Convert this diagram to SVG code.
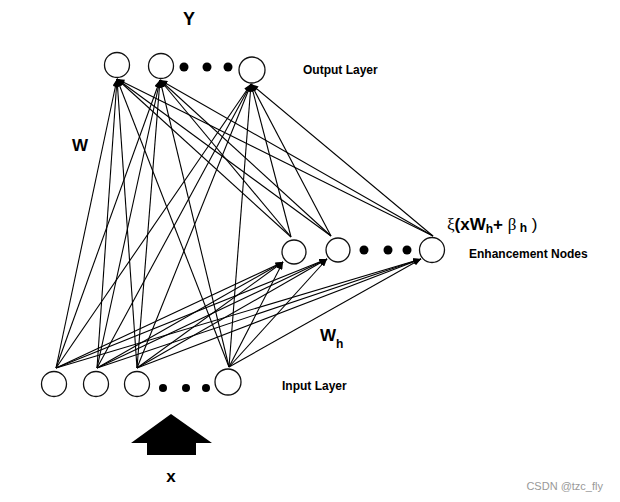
<svg xmlns="http://www.w3.org/2000/svg" width="620" height="502" viewBox="0 0 620 502">
<style>
.node{fill:#fff;stroke:#111;stroke-width:1.3}
.dot{fill:#000}
.c line{stroke:#000;stroke-width:1.1;marker-end:url(#ah)}
.lbl{font-family:"Liberation Sans",Arial,sans-serif;font-weight:bold;fill:#000}
</style>
<defs>
<marker id="ah" viewBox="0 0 10 8" refX="10" refY="4" markerWidth="8" markerHeight="6" markerUnits="userSpaceOnUse" orient="auto"><path d="M0,0 L10,4 L0,8 z" fill="#000"/></marker>
</defs>
<rect width="620" height="502" fill="#fff"/>
<g id="connectors" class="c">
<!-- input to output -->
<line x1="56" y1="368" x2="117" y2="79"/>
<line x1="56" y1="368" x2="160" y2="80"/>
<line x1="56" y1="368" x2="251" y2="84"/>
<line x1="97" y1="368" x2="117" y2="79"/>
<line x1="97" y1="368" x2="160" y2="80"/>
<line x1="97" y1="368" x2="251" y2="84"/>
<line x1="137" y1="368" x2="117" y2="79"/>
<line x1="137" y1="368" x2="160" y2="80"/>
<line x1="137" y1="368" x2="251" y2="84"/>
<line x1="229" y1="367" x2="117" y2="79"/>
<line x1="229" y1="367" x2="160" y2="80"/>
<line x1="229" y1="367" x2="251" y2="84"/>
<!-- input to enhancement -->
<line x1="56" y1="368" x2="283" y2="262"/>
<line x1="56" y1="368" x2="327" y2="259"/>
<line x1="56" y1="368" x2="421" y2="259"/>
<line x1="97" y1="368" x2="283" y2="262"/>
<line x1="97" y1="368" x2="327" y2="259"/>
<line x1="97" y1="368" x2="421" y2="259"/>
<line x1="137" y1="368" x2="283" y2="262"/>
<line x1="137" y1="368" x2="327" y2="259"/>
<line x1="137" y1="368" x2="421" y2="259"/>
<line x1="229" y1="367" x2="283" y2="262"/>
<line x1="229" y1="367" x2="327" y2="259"/>
<line x1="229" y1="367" x2="421" y2="259"/>
<!-- enhancement to output -->
<line x1="291" y1="237" x2="117" y2="79"/>
<line x1="291" y1="237" x2="160" y2="80"/>
<line x1="291" y1="237" x2="251" y2="84"/>
<line x1="331" y1="236" x2="117" y2="79"/>
<line x1="331" y1="236" x2="160" y2="80"/>
<line x1="331" y1="236" x2="251" y2="84"/>
<line x1="433" y1="236" x2="117" y2="79"/>
<line x1="433" y1="236" x2="160" y2="80"/>
<line x1="433" y1="236" x2="251" y2="84"/>
</g>
<g id="output-layer">
<circle class="node" cx="117" cy="65" r="12.5"/>
<circle class="node" cx="161" cy="66" r="12.5"/>
<circle class="dot" cx="184" cy="67" r="4.5"/>
<circle class="dot" cx="207" cy="67" r="4.5"/>
<circle class="dot" cx="228" cy="67" r="4.5"/>
<circle class="node" cx="252" cy="70" r="13"/>
</g>
<g id="enhancement-nodes">
<circle class="node" cx="294" cy="252" r="12"/>
<circle class="node" cx="338" cy="250" r="12"/>
<circle class="dot" cx="364" cy="250" r="4.5"/>
<circle class="dot" cx="388" cy="250" r="4.5"/>
<circle class="dot" cx="407" cy="250" r="4.5"/>
<circle class="node" cx="432" cy="250" r="12.5"/>
</g>
<g id="input-layer">
<circle class="node" cx="54" cy="384" r="12.5"/>
<circle class="node" cx="96" cy="384" r="12.5"/>
<circle class="node" cx="137" cy="384" r="12.5"/>
<circle class="dot" cx="163" cy="388" r="4"/>
<circle class="dot" cx="186" cy="388" r="4"/>
<circle class="dot" cx="206" cy="388" r="4"/>
<circle class="node" cx="228" cy="382" r="13"/>
</g>
<g id="input-arrow">
<polygon points="171,414 131,443 147,443 147,455 196,455 196,443 212,443" fill="#000"/>
</g>
<g id="labels">
<text class="lbl" x="189" y="25" font-size="18" text-anchor="middle">Y</text>
<text class="lbl" x="303" y="74" font-size="12">Output Layer</text>
<text class="lbl" x="72" y="151" font-size="17">W</text>
<text class="lbl" x="320" y="341" font-size="17">W<tspan font-size="12" dy="7">h</tspan></text>
<text class="lbl" x="469" y="258" font-size="12">Enhancement Nodes</text>
<text class="lbl" x="282" y="390" font-size="12">Input Layer</text>
<text class="lbl" x="171" y="482" font-size="17" text-anchor="middle">x</text>
<text x="447" y="230" font-size="17" font-family="Liberation Sans,Arial,sans-serif"><tspan font-family="Liberation Serif,serif">ξ</tspan><tspan font-weight="bold">(xW</tspan><tspan font-size="12" font-weight="bold" dy="3">h</tspan><tspan font-weight="bold" dy="-3">+ </tspan><tspan font-family="Liberation Serif,serif">β</tspan><tspan font-size="12" font-weight="bold" dy="2"> h</tspan><tspan dy="-2">  )</tspan></text>
<text x="603" y="490" font-size="11" fill="#999" text-anchor="end" font-family="Liberation Sans,Arial,sans-serif">CSDN @tzc_fly</text>
</g>
</svg>
